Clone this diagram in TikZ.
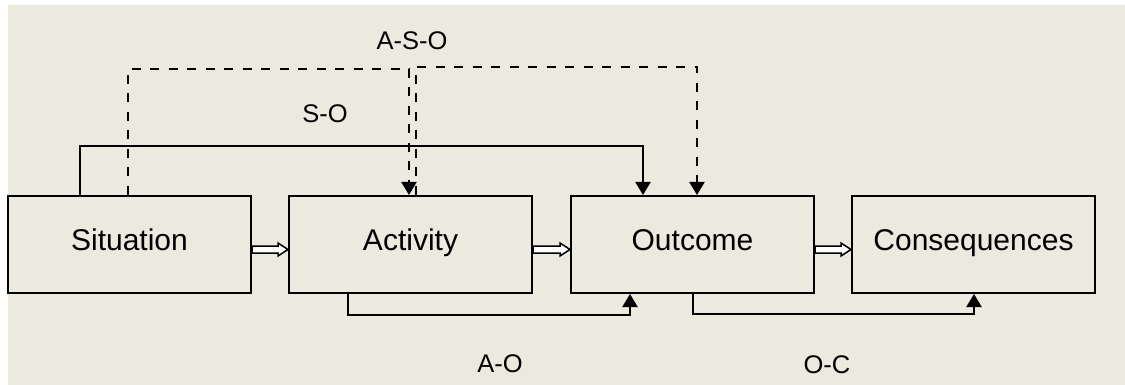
\documentclass[tikz,border=0pt]{standalone}
\usepackage{fontspec}
\setmainfont{Liberation Sans}
\usetikzlibrary{arrows.meta,calc}
\definecolor{paper}{RGB}{236,233,223}
\tikzset{
  box/.style={draw=black, line width=2pt, rectangle, minimum width=243pt, minimum height=97pt,
    inner sep=0pt, text height=11pt, text depth=0pt, font=\fontsize{30}{36}\selectfont},
  tag/.style={anchor=base, inner sep=0pt, font=\fontsize{25.5}{30}\selectfont},
  link/.style={draw=black, line width=2pt, -{Triangle[length=13pt,width=15pt]}},
  dlink/.style={link, dash pattern=on 9pt off 9.5pt},
  hollow/.style={draw=black, line width=1.5pt, fill=white, line join=miter,
    to path={-- ++(0,3.5) -- ($(\tikztotarget)+(-10,3.5)$) -- ($(\tikztotarget)+(-10,6.5)$)
      -- (\tikztotarget) -- ($(\tikztotarget)+(-10,-6.5)$) -- ($(\tikztotarget)+(-10,-3.5)$)
      -- ($(\tikztostart)+(0,-3.5)$) -- cycle}}
}
\begin{document}
\begin{tikzpicture}[x=1pt,y=-1pt]
  % page and backdrop
  \useasboundingbox (0,0) rectangle (1125,385);
  \fill[white] (0,0) rectangle (1125,385);
  \fill[paper] (8,5) rectangle (1125,385);

  % process stages
  \node[box] (s) at (129.5,244.5) {Situation};
  \node[box] (a) at (410.5,244.5) {Activity};
  \node[box] (o) at (692.5,244.5) {Outcome};
  \node[box] (c) at (973.5,244.5) {Consequences};

  % sequence arrows between stages
  \draw[hollow] ([yshift=-5pt]s.east) to ([yshift=-5pt]a.west);
  \draw[hollow] ([yshift=-5pt]a.east) to ([yshift=-5pt]o.west);
  \draw[hollow] ([yshift=-5pt]o.east) to ([yshift=-5pt]c.west);

  % S-O link
  \draw[link] ([xshift=-49.5pt]s.north) -- ++(0,-49) -| ([xshift=-49.5pt]o.north);
  % A-S-O links
  \draw[dlink] ([xshift=-1.5pt]s.north) -- ++(0,-126) -| ([xshift=-1.5pt]a.north);
  \draw[dlink] ([xshift=5pt]a.north) -- ++(0,-128) -| ([xshift=4.5pt]o.north);
  % A-O link
  \draw[link] ([xshift=-62.5pt]a.south) -- ++(0,21) -| ([xshift=-62.5pt]o.south);
  % O-C link
  \draw[link] (o.south) -- ++(0,20) -| ([xshift=0.5pt]c.south);

  % link labels
  \node[tag] (laso) at (412,50) {A-S-O};
  \node[tag] (lso) at (325,123) {S-O};
  \node[tag] (lao) at (500,372) {A-O};
  \node[tag] (loc) at (827,373) {O-C};
\end{tikzpicture}
\end{document}
